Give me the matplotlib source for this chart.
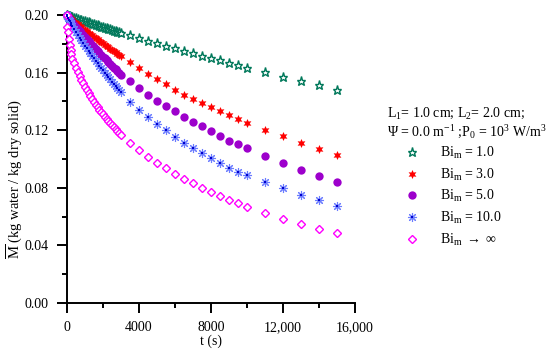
import numpy as np
import matplotlib
matplotlib.use("Agg")
import matplotlib.pyplot as plt
from matplotlib.ticker import MultipleLocator, FuncFormatter

plt.rcParams["font.family"] = "Liberation Serif"
plt.rcParams["font.size"] = 10
plt.rcParams["mathtext.fontset"] = "custom"
plt.rcParams["mathtext.rm"] = "Liberation Serif"
plt.rcParams["mathtext.it"] = "Liberation Serif:italic"

# time (s)
t = [0, 25, 50, 100, 150, 200, 250,
     300, 400, 500, 600, 700, 800, 900, 1000, 1100, 1200, 1300, 1400, 1500,
     1600, 1700, 1800, 1900, 2000, 2100, 2200, 2300, 2400, 2500, 2600, 2700,
     2800, 2900, 3000,
     3500, 4000, 4500, 5000, 5500, 6000, 6500, 7000, 7500, 8000, 8500, 9000,
     9500, 10000,
     11000, 12000, 13000, 14000, 15000]

# mean moisture content (kg water / kg dry solid)
m_bi1 = [0.2000, 0.1998, 0.1996, 0.1993, 0.1990, 0.1988, 0.1986,
         0.1984, 0.1980, 0.1976, 0.1972, 0.1968, 0.1964, 0.1960, 0.1956, 0.1952,
         0.1948, 0.1944, 0.1940, 0.1936, 0.1932, 0.1928, 0.1924, 0.1920, 0.1916,
         0.1912, 0.1908, 0.1904, 0.1900, 0.1896, 0.1892, 0.1888, 0.1884, 0.1880,
         0.1876,
         0.1858, 0.1840, 0.1822, 0.1804, 0.1786, 0.1769, 0.1752, 0.1736, 0.1718,
         0.1700, 0.1684, 0.1667, 0.1650, 0.1633,
         0.1602, 0.1572, 0.1542, 0.1512, 0.1481]

m_bi3 = [0.2000, 0.1996, 0.1992, 0.1985, 0.1979, 0.1973, 0.1968,
         0.1963, 0.1953, 0.1944, 0.1934, 0.1925, 0.1915, 0.1906, 0.1896, 0.1887,
         0.1877, 0.1868, 0.1858, 0.1849, 0.1840, 0.1830, 0.1821, 0.1812, 0.1803,
         0.1794, 0.1785, 0.1776, 0.1767, 0.1758, 0.1749, 0.1740, 0.1731, 0.1722,
         0.1713,
         0.1672, 0.1632, 0.1593, 0.1556, 0.1518, 0.1482, 0.1447, 0.1415, 0.1387,
         0.1359, 0.1332, 0.1306, 0.1279, 0.1252,
         0.1203, 0.1157, 0.1112, 0.1069, 0.1028]

m_bi5 = [0.2000, 0.1993, 0.1987, 0.1977, 0.1968, 0.1960, 0.1953,
         0.1946, 0.1932, 0.1918, 0.1904, 0.1890, 0.1876, 0.1862, 0.1848, 0.1834,
         0.1820, 0.1806, 0.1792, 0.1778, 0.1764, 0.1750, 0.1737, 0.1724, 0.1711,
         0.1698, 0.1685, 0.1672, 0.1659, 0.1646, 0.1634, 0.1622, 0.1610, 0.1598,
         0.1586,
         0.1540, 0.1492, 0.1447, 0.1406, 0.1368, 0.1332, 0.1295, 0.1260, 0.1226,
         0.1194, 0.1160, 0.1128, 0.1101, 0.1076,
         0.1023, 0.0972, 0.0925, 0.0883, 0.0838]

m_bi10 = [0.2000, 0.1990, 0.1982, 0.1968, 0.1955, 0.1943, 0.1932,
          0.1921, 0.1900, 0.1880, 0.1861, 0.1842, 0.1823, 0.1805, 0.1787, 0.1769,
          0.1751, 0.1733, 0.1716, 0.1699, 0.1682, 0.1665, 0.1648, 0.1632, 0.1616,
          0.1600, 0.1584, 0.1568, 0.1553, 0.1538, 0.1523, 0.1508, 0.1494, 0.1480,
          0.1466,
          0.1395, 0.1340, 0.1290, 0.1243, 0.1198, 0.1155, 0.1113, 0.1076, 0.1042,
          0.1009, 0.0973, 0.0939, 0.0913, 0.0889,
          0.0842, 0.0796, 0.0751, 0.0713, 0.0676]

m_inf = [0.2000, 0.1920, 0.1880, 0.1830, 0.1790, 0.1760, 0.1730,
         0.1697, 0.1664, 0.1633, 0.1604, 0.1576, 0.1550, 0.1525, 0.1501, 0.1478,
         0.1456, 0.1435, 0.1415, 0.1396, 0.1377, 0.1359, 0.1342, 0.1326, 0.1310,
         0.1294, 0.1279, 0.1264, 0.1250, 0.1236, 0.1222, 0.1208, 0.1195, 0.1182,
         0.1170,
         0.1113, 0.1063, 0.1016, 0.0972, 0.0935, 0.0898, 0.0862, 0.0830, 0.0797,
         0.0769, 0.0743, 0.0716, 0.0692, 0.0669,
         0.0627, 0.0586, 0.0549, 0.0516, 0.0486]

labels = [r"Bi$_\mathrm{m}$ = 1.0", r"Bi$_\mathrm{m}$ = 3.0", r"Bi$_\mathrm{m}$ = 5.0",
          r"Bi$_\mathrm{m}$ = 10.0", r"Bi$_\mathrm{m}$ $\rightarrow$ $\infty$"]

x_ticks = [0, 4000, 8000, 12000, 16000]
y_ticks = [0.00, 0.04, 0.08, 0.12, 0.16, 0.20]

fig = plt.figure(figsize=(5.5, 3.56), dpi=100)
ax = fig.add_axes([0.1218, 0.1489, 0.5237, 0.8090])

h1, = ax.plot(t, m_bi1, ls="none", marker="*", ms=6.5, mfc="white", mec="#00785a",
              mew=1.0, clip_on=False, zorder=3)
h2, = ax.plot(t, m_bi3, ls="none", marker=(6, 1, 0), ms=6.5, color="#ff0000",
              mew=0, clip_on=False, zorder=3)
h3, = ax.plot(t, m_bi5, ls="none", marker="o", ms=6, color="#9d00cc",
              mew=0, clip_on=False, zorder=3)
h4a, = ax.plot(t, m_bi10, ls="none", marker=(8, 2, 0), ms=6.5, mec="#6c7dff",
               mew=0.8, clip_on=False, zorder=3)
h4b, = ax.plot(t, m_bi10, ls="none", marker="s", ms=2, color="#0000cc",
               mew=0, clip_on=False, zorder=4)
h5, = ax.plot(t, m_inf, ls="none", marker="D", ms=3.6, mfc="white", mec="#ff00ff",
              mew=1.0, clip_on=False, zorder=3)

ax.set_xlim(0, 16000)
ax.set_ylim(0, 0.20)
ax.set_xticks(x_ticks)
ax.set_yticks(y_ticks)
ax.xaxis.set_minor_locator(MultipleLocator(2000))
ax.yaxis.set_minor_locator(MultipleLocator(0.02))
ax.xaxis.set_major_formatter(FuncFormatter(lambda v, p: f"{int(v):,}" if v >= 10000 else f"{int(v)}"))
ax.yaxis.set_major_formatter(FuncFormatter(lambda v, p: f"{v:.2f}"))

for side in ["top", "right"]:
    ax.spines[side].set_visible(False)
for side in ["left", "bottom"]:
    ax.spines[side].set_linewidth(1.4)
ax.tick_params(which="major", direction="out", length=7, width=1.4, labelsize=10, pad=6)
ax.tick_params(which="minor", direction="out", length=3.5, width=1.4)

ax.set_xlabel("t (s)", fontsize=10, labelpad=0)
ax.set_ylabel(r"$\overline{\mathrm{M}}$ (kg water / kg dry solid)", fontsize=10.5)
ax.yaxis.set_label_coords(-0.150, 0.43)

fig.text(387 / 550, 1 - 113 / 356, r"L$_1$= 1.0 cm; L$_2$= 2.0 cm;", fontsize=10, va="center")
fig.text(387 / 550, 1 - 132 / 356, r"$\Psi$ = 0.0 m$^{-1}$ ;P$_0$ = 10$^3$ W/m$^3$",
         fontsize=10, va="center")

ax.legend([h1, h2, h3, (h4a, h4b), h5], labels, loc="upper left",
          bbox_to_anchor=(402 / 550, 1 - 145 / 356), bbox_transform=fig.transFigure,
          frameon=False, numpoints=1, handlelength=1.5, handletextpad=1.2,
          borderpad=0, borderaxespad=0, labelspacing=0.4, fontsize=10)

plt.savefig("out.png", dpi=100)
